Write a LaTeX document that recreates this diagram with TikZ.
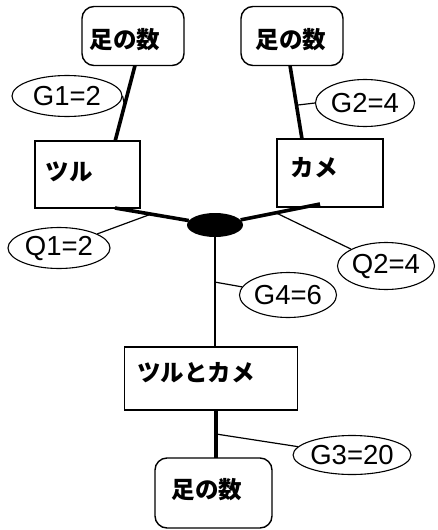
\documentclass[tikz,border=0pt]{standalone}
\usepackage{fontspec}
\setmainfont{Liberation Sans}
\newfontfamily\jp{Noto Sans CJK JP}
\usetikzlibrary{shapes.geometric,calc}
\tikzset{
  rbox/.style={draw,line width=1.4pt,rounded corners=12pt,inner sep=0pt},
  sbox/.style={draw,line width=1.4pt,inner sep=0pt},
  jptext/.style={font=\jp\bfseries\fontsize{23.5}{25}\selectfont,inner sep=0pt},
  oval/.style={draw,ellipse,line width=1.1pt,inner sep=0pt,font=\fontsize{27.5}{29}\selectfont},
  thickline/.style={line width=3.6pt},
  thinline/.style={line width=1.2pt}
}
\begin{document}
\begin{tikzpicture}[x=1pt,y=-1pt]
\useasboundingbox (0,0) rectangle (437,530);
% top boxes
\node[rbox,minimum width=102pt,minimum height=59pt] (legL) at (133,36) {};
\node[jptext] (legLt) at (125,40) {足の数};
\node[rbox,minimum width=102pt,minimum height=59pt] (legR) at (292,36) {};
\node[jptext] (legRt) at (291,40) {足の数};
% animal boxes
\node[sbox,minimum width=105pt,minimum height=67pt] (tsuru) at (87.5,174.5) {};
\node[jptext] (tsurut) at (69,172) {ツル};
\node[sbox,minimum width=106pt,minimum height=68pt] (kame) at (330,173) {};
\node[jptext] (kamet) at (314,168) {カメ};
% blob
\node[ellipse,fill=black,minimum width=56pt,minimum height=24pt,inner sep=0pt] (hub) at (215,225) {};
% combined box
\node[sbox,minimum width=173pt,minimum height=63pt] (both) at (211,378.5) {};
\node[jptext] (botht) at (196,373) {ツルとカメ};
% bottom box
\node[rbox,minimum width=117pt,minimum height=70pt] (legB) at (213.5,493) {};
\node[jptext] (legBt) at (207,490) {足の数};
% thick connectors
\coordinate (a1) at (135,65.5);
\coordinate (a2) at (115,141.5);
\draw[thickline] (a1) -- (a2);
\coordinate (b1) at (290,65.5);
\coordinate (b2) at (302,139);
\draw[thickline] (b1) -- (b2);
\coordinate (c1) at (115,208);
\coordinate (c2) at (320,204);
\draw[thickline] (c1) -- (hub);
\draw[thickline] (c2) -- (hub);
\coordinate (d1) at (215,237);
\coordinate (d2) at (215,347);
\draw[line width=2.6pt] (d1) -- (d2);
\coordinate (e1) at (216,410);
\coordinate (e2) at (216,458);
\draw[thickline] (e1) -- (e2);
% labels
\node[oval,minimum width=110pt,minimum height=41pt] (g1) at (67,96) {G1=2};
\node[oval,minimum width=99pt,minimum height=47pt] (g2) at (365,103) {G2=4};
\node[oval,minimum width=102pt,minimum height=41pt] (q1) at (59,248) {Q1=2};
\node[oval,minimum width=97pt,minimum height=47pt] (q2) at (386,266) {Q2=4};
\node[oval,minimum width=97pt,minimum height=45pt] (g4) at (288,295) {G4=6};
\node[oval,minimum width=99pt,minimum height=39pt] (g3) at (352,455) {G3=20};
% thin label connectors
\coordinate (g1p) at ($(a1)!0.52!(a2)$);
\draw[thinline] (g1.east) -- (g1p);
\coordinate (g2p) at ($(b1)!0.54!(b2)$);
\draw[thinline] (g2.west) -- (g2p);
\coordinate (q1p) at ($(c1)!0.36!(hub)$);
\draw[thinline] (q1) -- (q1p);
\coordinate (q2p) at ($(c2)!0.42!(hub)$);
\draw[thinline] (q2) -- (q2p);
\coordinate (g4p) at ($(d1)!0.41!(d2)$);
\draw[thinline] (g4) -- (g4p);
\coordinate (g3p) at ($(e1)!0.5!(e2)$);
\draw[thinline] (g3) -- (g3p);
\end{tikzpicture}
\end{document}
